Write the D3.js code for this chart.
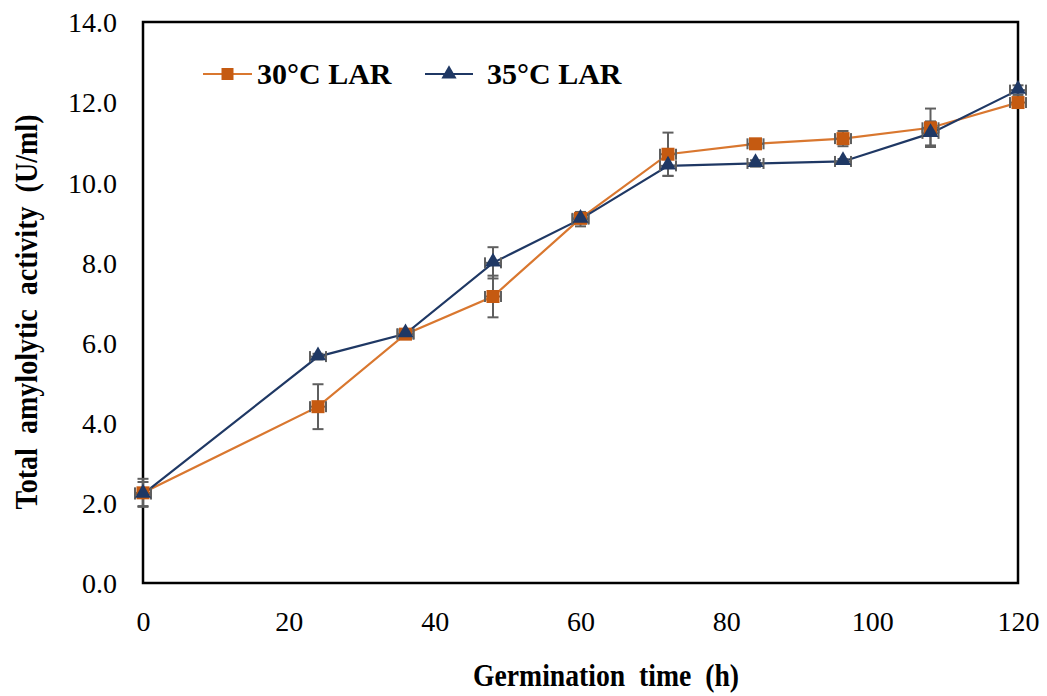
<!DOCTYPE html>
<html>
<head>
<meta charset="utf-8">
<script src="https://cdn.jsdelivr.net/npm/d3@7"></script>
<style>
  html, body { margin: 0; padding: 0; background: #fff; }
  svg { display: block; }
  text { font-family: "Liberation Serif", "Times New Roman", serif; fill: #000; }
  .title { white-space: pre; }
</style>
</head>
<body>
<svg id="chart" width="1047" height="696"></svg>
<script>
// ---- data ----
const hours    = [0, 24, 36, 48, 60, 72, 84, 96, 108, 120];
const lar30    = [2.25, 4.40, 6.21, 7.15, 9.10, 10.70, 10.96, 11.09, 11.36, 11.99];
const lar30Err = [0.35, 0.56, 0.08, 0.52, 0.12, 0.54, 0.06, 0.19, 0.48, 0.08];
const lar35    = [2.22, 5.65, 6.22, 7.99, 9.08, 10.41, 10.47, 10.52, 11.22, 12.30];
const lar35Err = [0.30, 0.07, 0.06, 0.39, 0.18, 0.25, 0.08, 0.06, 0.30, 0.12];
const hoursErr = 1.1;
const xTicks = [0, 20, 40, 60, 80, 100, 120];
const yTicks = [0, 2, 4, 6, 8, 10, 12, 14];
const seriesNames = ["30\u00B0C LAR", "35\u00B0C LAR"];
const xTitle = "Germination  time  (h)";
const yTitle = "Total  amylolytic  activity  (U/ml)";

const svg = d3.select("#chart");
const L = 143, R = 1018, T = 22, B = 583;
const x = d3.scaleLinear().domain([0, 120]).range([L, R]);
const y = d3.scaleLinear().domain([0, 14]).range([B, T]);

const orangeLine = "#D9772F", orangeFill = "#C55A11";
const blueLine = "#1F3864", blueFill = "#1F3864";
const errColor = "#5f5f5f";

// y axis
const yAxis = svg.append("g").attr("transform", `translate(${L},0)`)
  .call(d3.axisLeft(y).tickValues(yTicks).tickSize(0).tickPadding(26).tickFormat(d3.format(".1f")));
yAxis.select(".domain").remove();
yAxis.selectAll("text").attr("font-size", 28).attr("dy", "0.35em")
  .style("font-family", "Liberation Serif");

// x axis
const xAxis = svg.append("g").attr("transform", `translate(0,${B})`)
  .call(d3.axisBottom(x).tickValues(xTicks).tickSize(0).tickPadding(0).tickFormat(d3.format("d")));
xAxis.select(".domain").remove();
xAxis.selectAll("text").attr("font-size", 28).attr("y", 48).attr("dy", 0)
  .style("font-family", "Liberation Serif");

// frame
svg.append("rect").attr("x", L).attr("y", T).attr("width", R - L).attr("height", B - T)
  .attr("fill", "none").attr("stroke", "#000").attr("stroke-width", 2.5);

// axis titles
svg.append("text").attr("class", "title").attr("x", (473 + 739) / 2).attr("y", 686)
  .attr("text-anchor", "middle").attr("font-size", 31).attr("font-weight", "bold")
  .attr("textLength", 266).attr("lengthAdjust", "spacingAndGlyphs")
  .text(xTitle);
svg.append("text").attr("class", "title").attr("transform", "translate(37,312) rotate(-90)")
  .attr("text-anchor", "middle").attr("font-size", 31).attr("font-weight", "bold")
  .attr("textLength", 395).attr("lengthAdjust", "spacingAndGlyphs")
  .text(yTitle);

const series = [
  { name: seriesNames[0], vals: lar30, err: lar30Err, line: orangeLine, fill: orangeFill, sym: d3.symbolSquare, size: 169 },
  { name: seriesNames[1], vals: lar35, err: lar35Err, line: blueLine, fill: blueFill, sym: d3.symbolTriangle, size: 110 }
];

const lineGen = d3.line().x(d => x(d.h)).y(d => y(d.v));

series.forEach(s => {
  const pts = hours.map((h, i) => ({ h, v: s.vals[i], e: s.err[i] }));
  svg.append("path").datum(pts).attr("d", lineGen)
    .attr("fill", "none").attr("stroke", s.line).attr("stroke-width", 2.2);
});

series.forEach(s => {
  const pts = hours.map((h, i) => ({ h, v: s.vals[i], e: s.err[i] }));
  const g = svg.append("g").attr("stroke", errColor).attr("stroke-width", 2).attr("fill", "none");
  pts.forEach(p => {
    const cx = x(p.h), cy = y(p.v);
    const y1 = y(p.v + p.e), y2 = y(p.v - p.e);
    g.append("line").attr("x1", cx).attr("x2", cx).attr("y1", y1).attr("y2", y2);
    g.append("line").attr("x1", cx - 5.5).attr("x2", cx + 5.5).attr("y1", y1).attr("y2", y1);
    g.append("line").attr("x1", cx - 5.5).attr("x2", cx + 5.5).attr("y1", y2).attr("y2", y2);
    const x1 = x(p.h - hoursErr), x2 = x(p.h + hoursErr);
    g.append("line").attr("x1", x1).attr("x2", x2).attr("y1", cy).attr("y2", cy);
    g.append("line").attr("x1", x1).attr("x2", x1).attr("y1", cy - 5.5).attr("y2", cy + 5.5);
    g.append("line").attr("x1", x2).attr("x2", x2).attr("y1", cy - 5.5).attr("y2", cy + 5.5);
  });
});

series.forEach(s => {
  const pts = hours.map((h, i) => ({ h, v: s.vals[i] }));
  svg.append("g").selectAll("path").data(pts).join("path")
    .attr("d", d3.symbol().type(s.sym).size(s.size))
    .attr("transform", d => `translate(${x(d.h)},${y(d.v) + (s.sym === d3.symbolTriangle ? -1 : 0)})`)
    .attr("fill", s.fill);
});

// legend
const legendItems = [
  { s: series[0], x0: 203, x1: 252, tx: 257 },
  { s: series[1], x0: 425, x1: 473, tx: 487 }
];
legendItems.forEach(li => {
  const ly = 74;
  svg.append("line").attr("x1", li.x0).attr("x2", li.x1).attr("y1", ly).attr("y2", ly)
    .attr("stroke", li.s.line).attr("stroke-width", 2.2);
  svg.append("path").attr("d", d3.symbol().type(li.s.sym).size(li.s.sym === d3.symbolSquare ? 144 : 100))
    .attr("transform", `translate(${(li.x0 + li.x1) / 2},${ly})`).attr("fill", li.s.fill);
  svg.append("text").attr("x", li.tx).attr("y", 84).attr("font-size", 30).attr("font-weight", "bold")
    .text(li.s.name);
});
</script>
</body>
</html>
